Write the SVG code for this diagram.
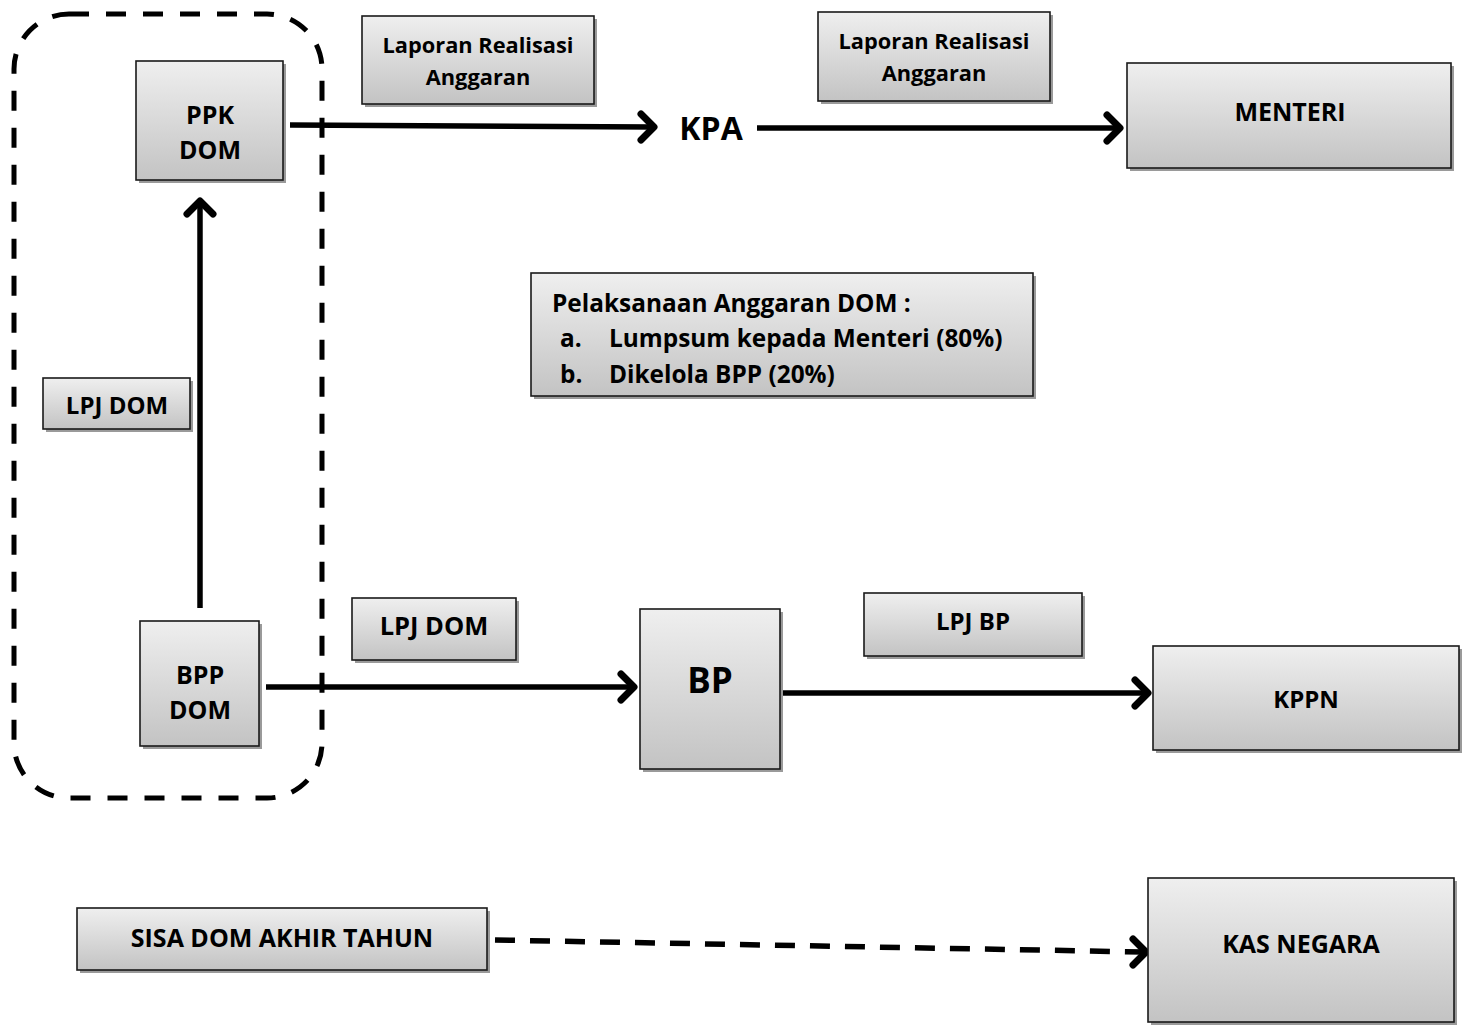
<svg xmlns="http://www.w3.org/2000/svg" width="1469" height="1025" viewBox="0 0 1469 1025">
<defs>
<linearGradient id="g" x1="0" y1="0" x2="0" y2="1">
<stop offset="0" stop-color="#efefef"/>
<stop offset="1" stop-color="#c3c3c3"/>
</linearGradient>
<style>
.sh{fill:#9a9a9a}
.bx{fill:url(#g);stroke:#1a1a1a;stroke-width:1.6}
text{font-family:"Open Sans",Lato,"Liberation Sans",sans-serif;font-weight:bold;fill:#000}
.c{text-anchor:middle}
.ln{stroke:#000;stroke-width:5.5;fill:none}
.hd{stroke:#000;stroke-width:7;fill:none;stroke-linecap:round;stroke-linejoin:round}
</style>
</defs>
<rect x="0" y="0" width="1469" height="1025" fill="#fff"/>
<g id="group-dashed">
<rect x="14" y="14" width="308" height="784" rx="55" ry="55" fill="none" stroke="#000" stroke-width="5" stroke-dasharray="20 17"/>
</g>
<g id="connectors">
<line class="ln" x1="290" y1="125" x2="652" y2="127"/>
<polyline class="hd" points="641,114 654,127 641,140"/>
<line class="ln" x1="757" y1="128" x2="1118" y2="128"/>
<polyline class="hd" points="1107,115 1120,128 1107,141"/>
<line class="ln" x1="200" y1="608" x2="200" y2="203"/>
<polyline class="hd" points="187,214 200,201 213,214"/>
<line class="ln" x1="266" y1="687" x2="632" y2="687"/>
<polyline class="hd" points="621,674 634,687 621,700"/>
<line class="ln" x1="780" y1="693" x2="1146" y2="693"/>
<polyline class="hd" points="1135,680 1148,693 1135,706"/>
<line class="ln" x1="495" y1="940" x2="1143" y2="952" stroke-dasharray="20 15"/>
<polyline class="hd" points="1133,939 1146,952 1133,965"/>
</g>
<g id="node-ppk">
<rect class="sh" x="139" y="64" width="147" height="119"/>
<rect class="bx" x="136" y="61" width="147" height="119"/>
<text class="c" x="210" y="124" font-size="25">PPK</text>
<text class="c" x="210" y="159" font-size="25">DOM</text>
</g>
<g id="node-lra1">
<rect class="sh" x="365" y="19" width="232" height="88"/>
<rect class="bx" x="362" y="16" width="232" height="88"/>
<text class="c" x="478" y="53" font-size="21.8">Laporan Realisasi</text>
<text class="c" x="478" y="85" font-size="21.8">Anggaran</text>
</g>
<g id="node-kpa">
<text class="c" x="711" y="139.5" font-size="32">KPA</text>
</g>
<g id="node-lra2">
<rect class="sh" x="821" y="15" width="232" height="89"/>
<rect class="bx" x="818" y="12" width="232" height="89"/>
<text class="c" x="934" y="49" font-size="21.8">Laporan Realisasi</text>
<text class="c" x="934" y="81" font-size="21.8">Anggaran</text>
</g>
<g id="node-menteri">
<rect class="sh" x="1130" y="66" width="324" height="105"/>
<rect class="bx" x="1127" y="63" width="324" height="105"/>
<text class="c" x="1290" y="121" font-size="25">MENTERI</text>
</g>
<g id="node-pelaksanaan">
<rect class="sh" x="534" y="276" width="502" height="123"/>
<rect class="bx" x="531" y="273" width="502" height="123"/>
<text x="552" y="312" font-size="24.4">Pelaksanaan Anggaran DOM :</text>
<text x="560" y="347" font-size="24.4">a.</text>
<text x="609" y="347" font-size="24.4">Lumpsum kepada Menteri (80%)</text>
<text x="560" y="383" font-size="24.4">b.</text>
<text x="609" y="383" font-size="24.4">Dikelola BPP (20%)</text>
</g>
<g id="node-lpj-left">
<rect class="sh" x="46" y="381" width="147" height="51"/>
<rect class="bx" x="43" y="378" width="147" height="51"/>
<text class="c" x="117" y="414" font-size="24">LPJ DOM</text>
</g>
<g id="node-bpp">
<rect class="sh" x="143" y="624" width="119" height="125"/>
<rect class="bx" x="140" y="621" width="119" height="125"/>
<text class="c" x="200" y="684" font-size="25">BPP</text>
<text class="c" x="200" y="719" font-size="25">DOM</text>
</g>
<g id="node-lpj-mid">
<rect class="sh" x="355" y="601" width="164" height="62"/>
<rect class="bx" x="352" y="598" width="164" height="62"/>
<text class="c" x="434" y="635" font-size="25.5">LPJ DOM</text>
</g>
<g id="node-bp">
<rect class="sh" x="643" y="612" width="140" height="160"/>
<rect class="bx" x="640" y="609" width="140" height="160"/>
<text class="c" x="710" y="692.5" font-size="35">BP</text>
</g>
<g id="node-lpj-bp">
<rect class="sh" x="867" y="596" width="218" height="63"/>
<rect class="bx" x="864" y="593" width="218" height="63"/>
<text class="c" x="973" y="630" font-size="24">LPJ BP</text>
</g>
<g id="node-kppn">
<rect class="sh" x="1156" y="649" width="306" height="104"/>
<rect class="bx" x="1153" y="646" width="306" height="104"/>
<text class="c" x="1306" y="708" font-size="24">KPPN</text>
</g>
<g id="node-sisa">
<rect class="sh" x="80" y="911" width="410" height="62"/>
<rect class="bx" x="77" y="908" width="410" height="62"/>
<text class="c" x="282" y="947" font-size="25">SISA DOM AKHIR TAHUN</text>
</g>
<g id="node-kas">
<rect class="sh" x="1151" y="881" width="306" height="144"/>
<rect class="bx" x="1148" y="878" width="306" height="144"/>
<text class="c" x="1301" y="953" font-size="25">KAS NEGARA</text>
</g>
</svg>
